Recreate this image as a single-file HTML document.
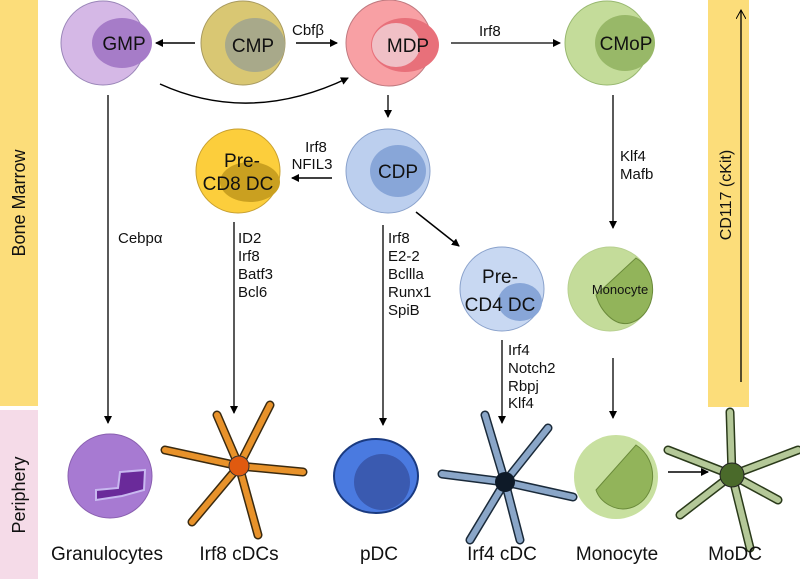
<!DOCTYPE html>
<html><head><meta charset="utf-8"><style>
body{margin:0;background:#fff;overflow:hidden}
svg{display:block;font-family:"Liberation Sans",sans-serif}
text{font-size:15px;fill:#111}
</style></head><body>
<svg width="800" height="579" viewBox="0 0 800 579">
<defs>
<marker id="a" markerWidth="8" markerHeight="8" refX="7" refY="4" orient="auto" markerUnits="userSpaceOnUse"><path d="M0,0 L8,4 L0,8z" fill="#000"/></marker>
<marker id="o" markerWidth="10" markerHeight="10" refX="9" refY="5" orient="auto" markerUnits="userSpaceOnUse"><path d="M0,0 L9,5 L0,10" fill="none" stroke="#000"/></marker>
</defs>
<rect x="0" y="0" width="38" height="406" fill="#fcdd7a"/>
<rect x="0" y="410" width="38" height="169" fill="#f5dbe8"/>
<text transform="translate(25,203) rotate(-90)" text-anchor="middle" style="font-size:18px">Bone Marrow</text>
<text transform="translate(25,495) rotate(-90)" text-anchor="middle" style="font-size:18px">Periphery</text>
<rect x="708" y="0" width="41" height="407" fill="#fcdd7a"/>
<text transform="translate(731,195) rotate(-90)" text-anchor="middle" style="font-size:16px">CD117 (cKit)</text>
<line x1="741" y1="382" x2="741" y2="10" stroke="#000" stroke-width="1.3" marker-end="url(#o)"/>

<circle cx="103" cy="43" r="42" fill="#d5b8e6" stroke="#9a86b8"/>
<ellipse cx="122" cy="43" rx="30" ry="25" fill="#a67cc8"/>
<text x="124" y="50" text-anchor="middle" style="font-size:19px">GMP</text>
<circle cx="243" cy="43" r="42" fill="#d9c773" stroke="#a89a60"/>
<ellipse cx="255" cy="45" rx="30" ry="27" fill="#a8a98a"/>
<text x="253" y="52" text-anchor="middle" style="font-size:19px">CMP</text>
<circle cx="389" cy="43" r="43" fill="#f8a0a4" stroke="#c07a80"/>
<ellipse cx="405" cy="45" rx="34" ry="27" fill="#e8707a"/>
<ellipse cx="396" cy="45" rx="24" ry="22" fill="#f0c0c6"/>
<text x="408" y="52" text-anchor="middle" style="font-size:19px">MDP</text>
<circle cx="607" cy="43" r="42" fill="#c4dc9a" stroke="#98b870"/>
<ellipse cx="625" cy="43" rx="30" ry="28" fill="#98b868"/>
<text x="626" y="50" text-anchor="middle" style="font-size:19px">CMoP</text>

<line x1="195" y1="43" x2="156" y2="43" stroke="#000" stroke-width="1.5" marker-end="url(#a)"/>
<line x1="296" y1="43" x2="337" y2="43" stroke="#000" stroke-width="1.5" marker-end="url(#a)"/>
<text x="292" y="35">Cbfβ</text>
<path d="M160,84 Q250,125 348,78" fill="none" stroke="#000" stroke-width="1.5" marker-end="url(#a)"/>
<line x1="451" y1="43" x2="560" y2="43" stroke="#000" stroke-width="1.3" marker-end="url(#a)"/>
<text x="479" y="36">Irf8</text>

<line x1="388" y1="95" x2="388" y2="117" stroke="#000" stroke-width="1.3" marker-end="url(#a)"/>
<circle cx="238" cy="171" r="42" fill="#fcce3c" stroke="#c8a030"/>
<ellipse cx="250" cy="182" rx="30" ry="20" fill="#caa020"/>
<text x="242" y="167" text-anchor="middle" style="font-size:19px">Pre-</text>
<text x="238" y="190" text-anchor="middle" style="font-size:19px">CD8 DC</text>
<circle cx="388" cy="171" r="42" fill="#bccfee" stroke="#8aa2cc"/>
<ellipse cx="398" cy="171" rx="28" ry="26" fill="#88a6d8"/>
<text x="398" y="178" text-anchor="middle" style="font-size:19px">CDP</text>
<line x1="332" y1="178" x2="292" y2="178" stroke="#000" stroke-width="1.5" marker-end="url(#a)"/>
<text x="316" y="152" text-anchor="middle">Irf8</text>
<text x="312" y="169" text-anchor="middle">NFIL3</text>
<line x1="416" y1="212" x2="459" y2="246" stroke="#000" stroke-width="1.5" marker-end="url(#a)"/>

<circle cx="502" cy="289" r="42" fill="#c8d8f2" stroke="#8aa2cc"/>
<ellipse cx="520" cy="302" rx="22" ry="19" fill="#88a6d8"/>
<text x="500" y="283" text-anchor="middle" style="font-size:19px">Pre-</text>
<text x="500" y="311" text-anchor="middle" style="font-size:19px">CD4 DC</text>
<circle cx="610" cy="289" r="42" fill="#c4dc9a" stroke="#b8d090"/>
<path d="M596,295 L636,258 C660,272 658,315 630,323 C614,327 600,310 596,295 Z" fill="#92b45a" stroke="#6a8a3a"/>
<text x="620" y="294" text-anchor="middle" style="font-size:13px">Monocyte</text>

<line x1="108" y1="95" x2="108" y2="423" stroke="#000" stroke-width="1.3" marker-end="url(#a)"/>
<text x="118" y="243">Cebpα</text>
<line x1="234" y1="222" x2="234" y2="413" stroke="#000" stroke-width="1.3" marker-end="url(#a)"/>
<text x="238" y="243">ID2</text><text x="238" y="261">Irf8</text><text x="238" y="279">Batf3</text><text x="238" y="297">Bcl6</text>
<line x1="383" y1="225" x2="383" y2="425" stroke="#000" stroke-width="1.3" marker-end="url(#a)"/>
<text x="388" y="243">Irf8</text><text x="388" y="261">E2-2</text><text x="388" y="279">Bcllla</text><text x="388" y="297">Runx1</text><text x="388" y="315">SpiB</text>
<line x1="502" y1="340" x2="502" y2="423" stroke="#000" stroke-width="1.3" marker-end="url(#a)"/>
<text x="508" y="355">Irf4</text><text x="508" y="373">Notch2</text><text x="508" y="391">Rbpj</text><text x="508" y="408">Klf4</text>
<line x1="613" y1="95" x2="613" y2="228" stroke="#000" stroke-width="1.3" marker-end="url(#a)"/>
<text x="620" y="161">Klf4</text><text x="620" y="179">Mafb</text>
<line x1="613" y1="358" x2="613" y2="418" stroke="#000" stroke-width="1.3" marker-end="url(#a)"/>

<circle cx="110" cy="476" r="42" fill="#a77ad2" stroke="#8a60b0"/>
<path d="M96,490 L118,488 L120,472 L145,470 L144,490 L122,496 L96,500Z" fill="#6a2a9a" stroke="#c8b8f0" stroke-width="2"/>

<g stroke-linecap="round" fill="none">
<g stroke="#3a2a10" stroke-width="9">
<path d="M239,466 L270,405 M239,466 L217,415 M239,466 L165,450 M239,466 L303,472 M239,466 L258,535 M239,466 L192,522"/>
</g>
<g stroke="#e8922a" stroke-width="6">
<path d="M239,466 L270,405 M239,466 L217,415 M239,466 L165,450 M239,466 L303,472 M239,466 L258,535 M239,466 L192,522"/>
</g>
<g stroke="#1a2a3a" stroke-width="9">
<path d="M505,482 L485,415 M505,482 L548,428 M505,482 L442,474 M505,482 L573,497 M505,482 L470,540 M505,482 L520,540"/>
</g>
<g stroke="#8aa6c8" stroke-width="6">
<path d="M505,482 L485,415 M505,482 L548,428 M505,482 L442,474 M505,482 L573,497 M505,482 L470,540 M505,482 L520,540"/>
</g>
<g stroke="#2a3a1a" stroke-width="9">
<path d="M732,475 L730,412 M732,475 L798,450 M732,475 L668,450 M732,475 L778,500 M732,475 L750,548 M732,475 L680,515"/>
</g>
<g stroke="#b4c898" stroke-width="6">
<path d="M732,475 L730,412 M732,475 L798,450 M732,475 L668,450 M732,475 L778,500 M732,475 L750,548 M732,475 L680,515"/>
</g>
</g>
<circle cx="239" cy="466" r="10" fill="#e05a10" stroke="#333"/>
<circle cx="505" cy="482" r="10" fill="#0e1a28"/>
<circle cx="732" cy="475" r="12" fill="#4a6a2a" stroke="#222"/>

<ellipse cx="376" cy="476" rx="42" ry="37" fill="#4a7ae0" stroke="#1a3a80" stroke-width="2"/>
<ellipse cx="382" cy="482" rx="28" ry="28" fill="#3a5ab0"/>

<circle cx="616" cy="477" r="42" fill="#c8e0a0"/>
<path d="M596,490 L636,445 C660,460 658,500 630,508 C615,512 600,502 596,490 Z" fill="#92b45a" stroke="#6a8a3a"/>
<line x1="668" y1="472" x2="708" y2="472" stroke="#000" stroke-width="1.5" marker-end="url(#a)"/>

<text x="107" y="560" text-anchor="middle" style="font-size:19px">Granulocytes</text>
<text x="239" y="560" text-anchor="middle" style="font-size:19px">Irf8 cDCs</text>
<text x="379" y="560" text-anchor="middle" style="font-size:19px">pDC</text>
<text x="502" y="560" text-anchor="middle" style="font-size:19px">Irf4 cDC</text>
<text x="617" y="560" text-anchor="middle" style="font-size:19px">Monocyte</text>
<text x="735" y="560" text-anchor="middle" style="font-size:19px">MoDC</text>
</svg>
</body></html>
